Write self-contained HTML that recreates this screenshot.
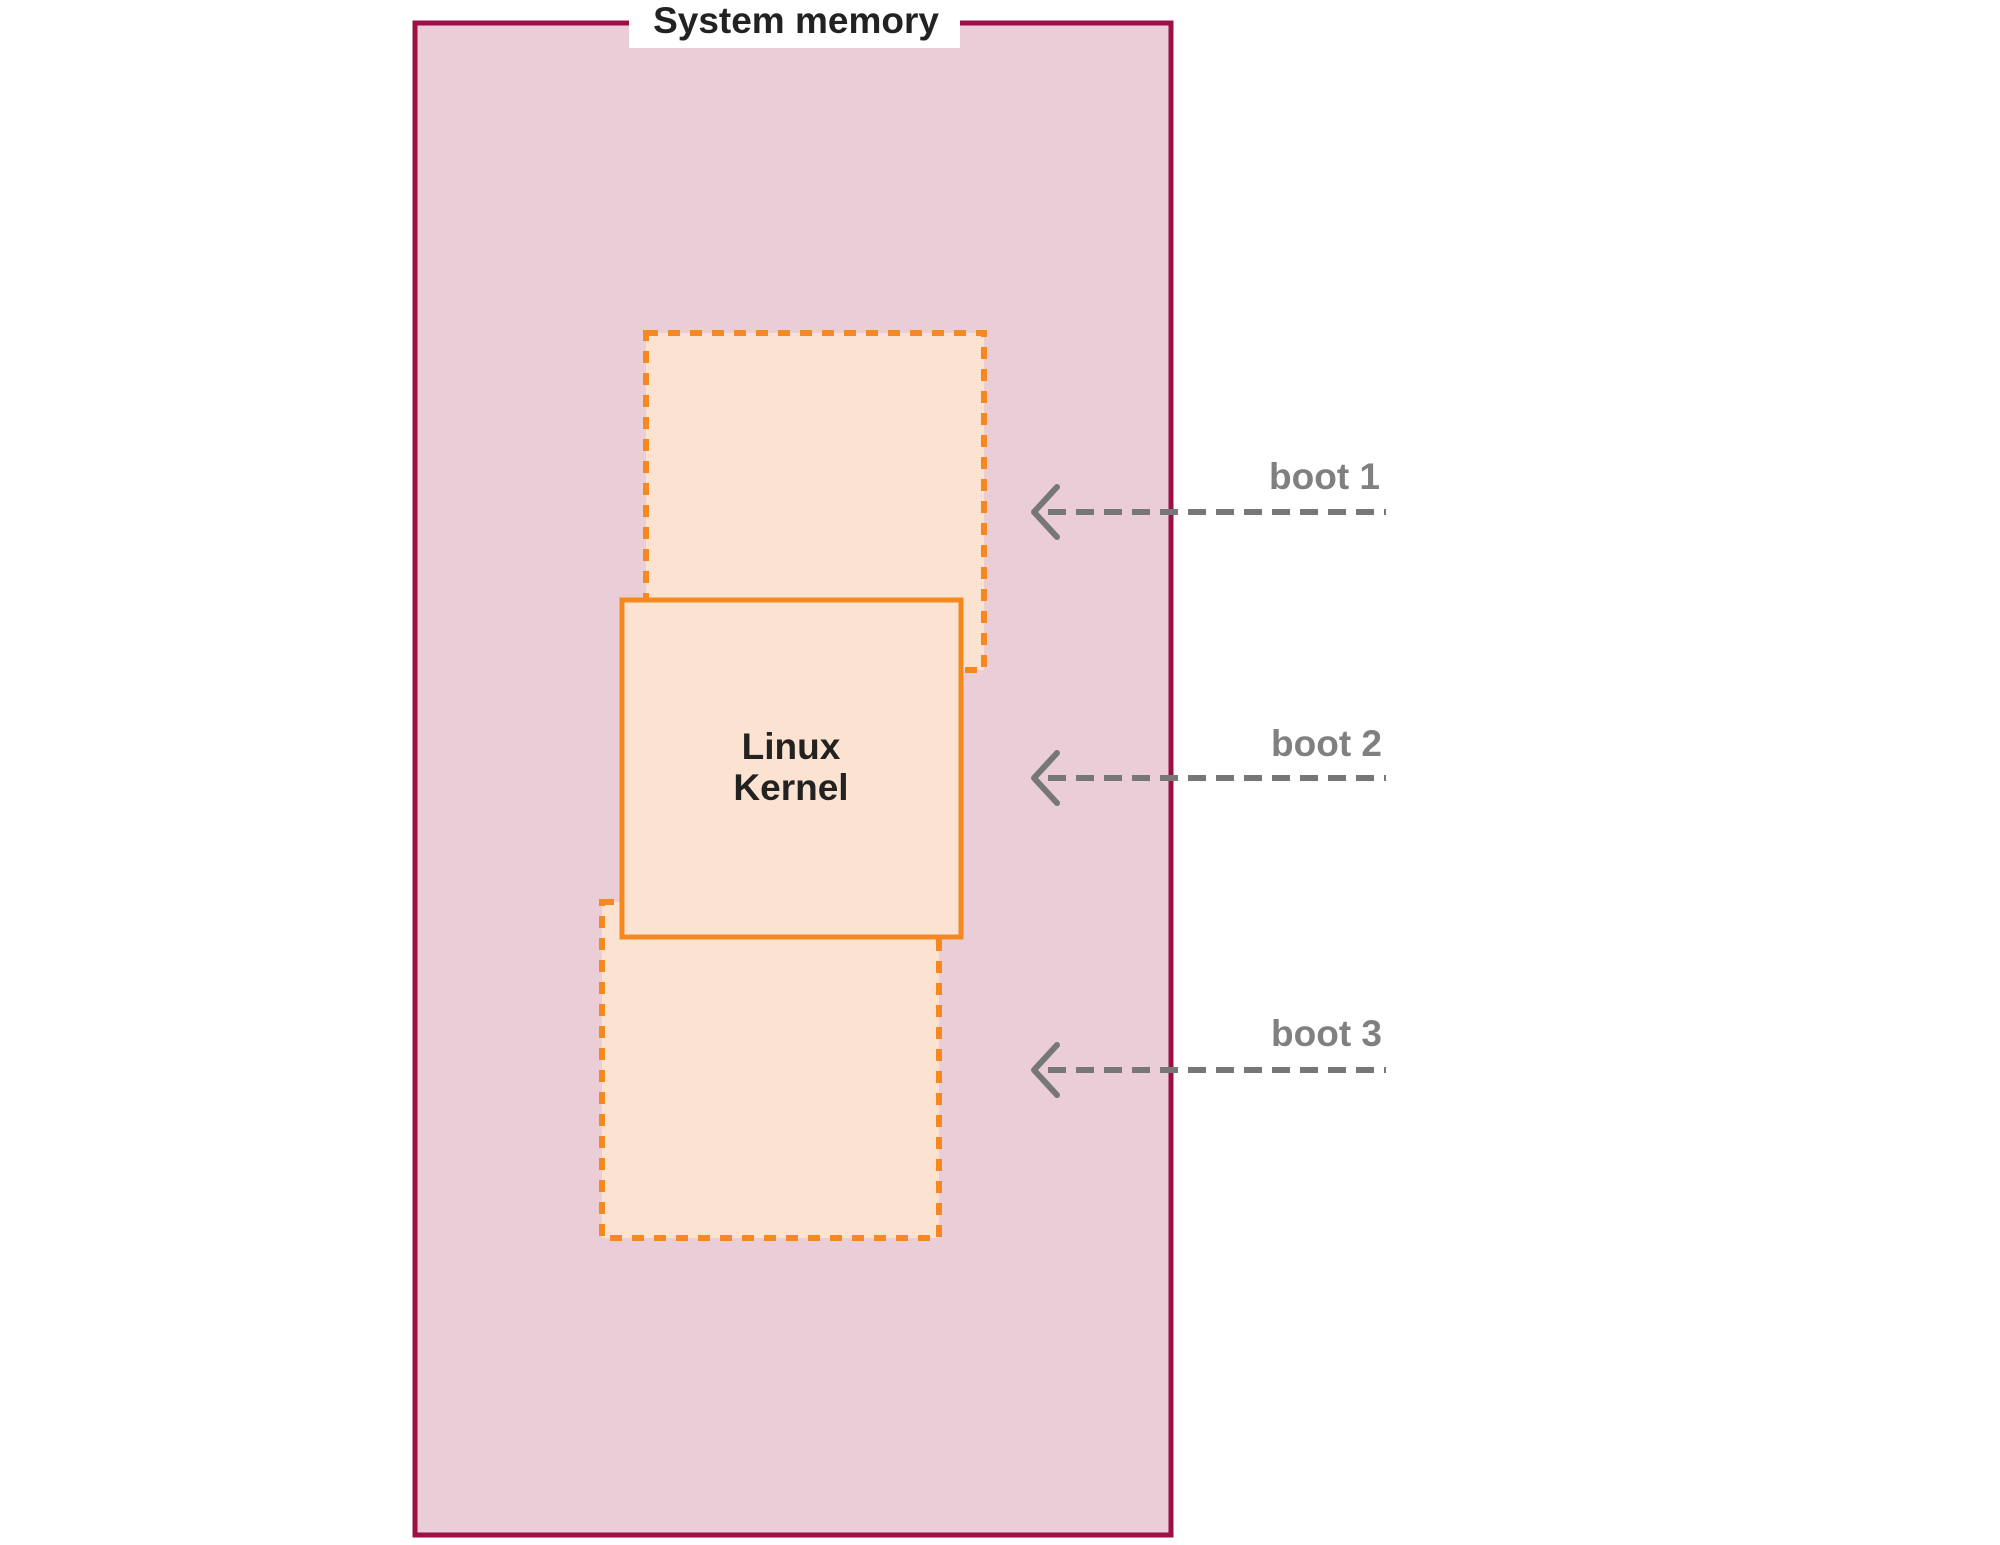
<!DOCTYPE html>
<html><head><style>html,body{margin:0;padding:0;background:#fff}svg{display:block}</style></head>
<body>
<svg width="2000" height="1545" viewBox="0 0 2000 1545" xmlns="http://www.w3.org/2000/svg" font-family="Liberation Sans, sans-serif">
<g transform="translate(-4,-1)">
<rect x="419" y="24" width="756" height="1512" fill="#eacdd7" stroke="#9b1045" stroke-width="5"/>
<rect x="633" y="0" width="331" height="49" fill="#ffffff"/>
<text x="800" y="34" text-anchor="middle" font-size="37" font-weight="bold" fill="#222">System memory</text>
<rect x="650" y="334" width="338" height="337" fill="#fce3d1" stroke="#f5891f" stroke-width="6" stroke-dasharray="12 10"/>
<rect x="606" y="903" width="337" height="336" fill="#fce3d1" stroke="#f5891f" stroke-width="6" stroke-dasharray="12 10"/>
<rect x="626" y="601" width="339" height="337" fill="#fce3d1" stroke="#f5891f" stroke-width="5"/>
<text x="795" y="760" text-anchor="middle" font-size="37" font-weight="bold" fill="#222">Linux</text>
<text x="795" y="801" text-anchor="middle" font-size="37" font-weight="bold" fill="#222">Kernel</text>
<g stroke="#777" stroke-width="6" fill="none">
<line x1="1052" y1="513" x2="1390" y2="513" stroke-dasharray="18 10"/>
<polyline points="1061,488 1038,513 1061,538" stroke-linecap="round" stroke-linejoin="round"/>
<line x1="1052" y1="779" x2="1390" y2="779" stroke-dasharray="18 10"/>
<polyline points="1061,754 1038,779 1061,804" stroke-linecap="round" stroke-linejoin="round"/>
<line x1="1052" y1="1071" x2="1390" y2="1071" stroke-dasharray="18 10"/>
<polyline points="1061,1046 1038,1071 1061,1096" stroke-linecap="round" stroke-linejoin="round"/>
</g>
<g font-size="37" font-weight="bold" fill="#808080" text-anchor="end">
<text x="1384" y="490">boot 1</text>
<text x="1386" y="757">boot 2</text>
<text x="1386" y="1047">boot 3</text>
</g>
</g>
</svg>
</body></html>
